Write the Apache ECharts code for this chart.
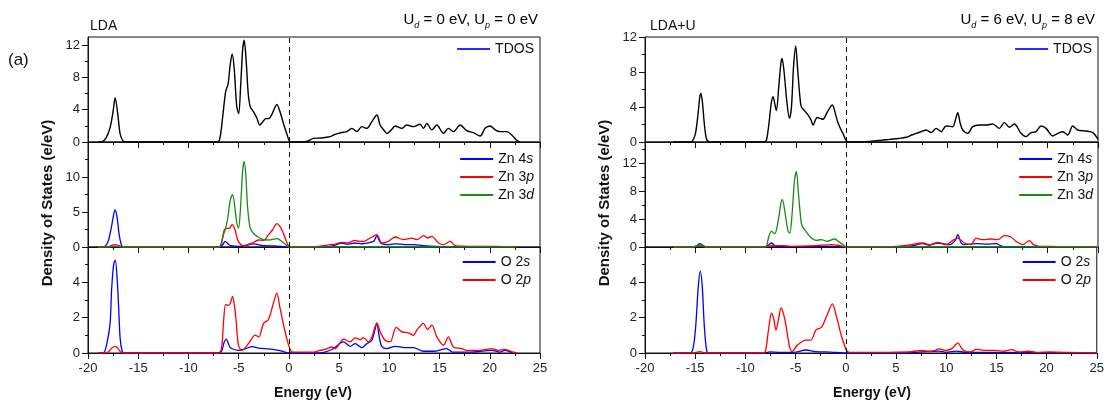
<!DOCTYPE html>
<html><head><meta charset="utf-8">
<script src="https://cdn.jsdelivr.net/npm/echarts@6/dist/echarts.min.js"></script>
<style>html,body{margin:0;padding:0;background:#fff}#c{width:1107px;height:400px}</style>
</head><body><div id="c"></div>
<script>
// ---- data: [energy (eV), DOS (e/eV)] ----
const ldaTdos = [[-19,0],[-18.6,0.05],[-18.2,0.5],[-17.8,1.8],[-17.5,3.8],[-17.3,5.5],[-17.05,3.6],[-16.8,1.0],[-16.5,0.1],[-16.2,0],
 [-7.2,0],[-6.9,0.3],[-6.6,3.0],[-6.3,6.2],[-6.05,7.2],[-5.85,9.5],[-5.65,10.9],[-5.45,9.2],[-5.2,4.5],[-5.0,3.5],[-4.8,7.0],[-4.6,11.5],[-4.45,12.6],[-4.25,10.0],[-4.05,6.0],[-3.85,4.4],[-3.5,3.7],[-3.2,3.0],[-2.9,2.1],[-2.6,2.5],[-2.3,2.9],[-2.0,2.9],[-1.7,3.4],[-1.2,4.65],[-0.9,3.8],[-0.5,2.1],[-0.2,1.0],[0.1,0.05],[0.5,0],
 [1.5,0],[2.0,0.2],[2.45,0.45],[3.2,0.5],[4.1,0.66],[4.5,0.9],[4.94,1.07],[5.4,1.2],[5.77,1.28],[6.27,1.69],[6.77,1.28],[7.26,1.9],[7.76,1.69],[8.26,2.52],[8.76,3.34],[9.08,2.1],[9.5,1.4],[9.75,1.07],[10.2,1.5],[10.58,1.98],[11.24,1.69],[11.74,2.1],[12.4,1.9],[13.06,2.2],[13.4,1.69],[13.73,2.3],[14.23,1.5],[14.73,2.1],[15.39,1.07],[15.88,1.69],[16.38,1.28],[17.05,2.1],[17.71,1.4],[18.37,1.15],[19.04,0.74],[19.53,1.69],[20.03,1.98],[20.53,1.5],[21.02,1.28],[21.69,1.28],[22.35,0.66],[22.7,0.2],[23.0,0]];
const ldaZn4s = [[-19,0],[-18.4,0.05],[-18.0,0.8],[-17.7,2.6],[-17.45,4.6],[-17.3,5.3],[-17.1,4.2],[-16.9,1.8],[-16.65,0.2],[-16.4,0],
 [-7.0,0],[-6.6,0.3],[-6.35,0.8],[-6.0,0.35],[-5.8,0.2],[-5.0,0.1],[-4.5,0.15],[-3.5,0.45],[-3.0,0.3],[-2.5,0.2],[-1.5,0.15],[-0.5,0.05],[0,0],
 [3.5,0],[4.5,0.2],[5.27,0.57],[5.8,0.4],[6.6,0.57],[7.2,0.45],[8.09,0.66],[8.5,0.9],[8.75,1.62],[9.0,0.9],[9.25,0.45],[10.0,0.35],[10.58,0.45],[11.5,0.35],[12.4,0.33],[13.4,0.2],[14.7,0.1],[16,0.05],[18,0.05],[20,0.05],[22.5,0]];
const ldaZn3p = [[-19,0],[-18.3,0],[-17.9,0.1],[-17.5,0.3],[-17.3,0.33],[-17.0,0.25],[-16.7,0.05],[-16.4,0],
 [-7.0,0],[-6.7,0.5],[-6.45,2.4],[-6.2,2.65],[-5.9,2.7],[-5.65,3.2],[-5.4,2.6],[-5.1,1.05],[-4.8,0.35],[-4.5,0.2],[-4.0,0.4],[-3.5,0.68],[-3.0,1.0],[-2.5,0.95],[-2.03,1.76],[-1.6,2.5],[-1.2,3.33],[-0.7,2.47],[-0.3,1.0],[0,0.1],[0.4,0],
 [1.5,0],[3.0,0.1],[4.11,0.33],[4.6,0.4],[5.27,0.66],[5.8,0.57],[6.6,0.95],[7.0,0.8],[7.43,0.8],[8.09,1.28],[8.75,1.76],[9.25,0.57],[9.91,0.8],[10.58,1.43],[11.4,1.05],[12.24,1.28],[12.74,1.05],[13.4,1.62],[13.8,1.28],[14.23,1.52],[14.89,0.57],[15.39,0.33],[16.05,0.8],[16.55,0.2],[17.7,0.1],[19,0.08],[20.5,0.1],[22,0.05],[22.7,0]];
const ldaZn3d = [[-19,0],[-17.8,0],[-17.5,0.1],[-17.3,0.12],[-17.0,0.05],[-16.6,0],
 [-7.0,0],[-6.8,0.3],[-6.55,1.6],[-6.34,2.47],[-6.1,4.0],[-5.85,6.6],[-5.61,7.47],[-5.4,6.0],[-5.2,3.5],[-5.01,2.71],[-4.8,6.0],[-4.6,11.0],[-4.45,12.2],[-4.3,10.5],[-4.1,5.5],[-3.85,2.7],[-3.5,1.9],[-3.18,1.52],[-2.52,1.05],[-2.0,1.0],[-1.6,1.1],[-1.2,1.19],[-0.9,1.0],[-0.54,0.6],[-0.2,0.2],[0,0],[22.5,0]];
const ldaO2s = [[-19,0],[-18.45,0.02],[-18.1,0.6],[-17.8,1.68],[-17.65,3.58],[-17.45,5.0],[-17.28,5.26],[-17.1,4.2],[-16.95,2.6],[-16.8,0.83],[-16.6,0.1],[-16.4,0],
 [-7.0,0],[-6.7,0.1],[-6.45,0.6],[-6.24,0.78],[-6.0,0.5],[-5.84,0.3],[-5.01,0.15],[-4.5,0.2],[-3.68,0.36],[-3.0,0.27],[-2.0,0.23],[-1.0,0.15],[-0.54,0.08],[0,0],
 [3.0,0],[4.28,0.2],[5.43,0.63],[6.1,0.38],[6.6,0.53],[7.26,0.3],[7.76,0.53],[8.26,0.72],[8.76,1.64],[9.0,0.9],[9.25,0.38],[9.75,0.25],[10.58,0.38],[11.5,0.3],[12.4,0.3],[13.4,0.1],[14.5,0.1],[15.7,0.25],[16.3,0.05],[18,0.05],[20.2,0.15],[21,0.05],[21.5,0.15],[22.3,0]];
const ldaO2p = [[-19,0],[-18.3,0],[-17.9,0.1],[-17.6,0.3],[-17.3,0.38],[-17.0,0.25],[-16.7,0.03],[-16.4,0],
 [-7.0,0],[-6.7,0.3],[-6.5,1.8],[-6.3,2.73],[-6.05,2.7],[-5.84,2.8],[-5.61,3.2],[-5.4,2.6],[-5.25,1.8],[-5.01,0.4],[-4.68,0.15],[-4.0,0.55],[-3.35,1.01],[-3.0,0.91],[-2.52,1.68],[-2.03,1.9],[-1.6,2.7],[-1.2,3.39],[-0.9,2.6],[-0.54,1.6],[-0.2,0.8],[0,0.4],[0.2,0.1],[0.46,0.05],
 [2.45,0.05],[3.11,0.15],[3.6,0.2],[4.28,0.34],[4.6,0.25],[5.0,0.5],[5.43,0.78],[6.1,0.63],[6.6,0.86],[7.1,0.76],[7.43,0.87],[7.92,0.63],[8.26,0.91],[8.76,1.71],[9.08,1.2],[9.58,0.72],[10.08,0.63],[10.68,1.45],[11.24,1.2],[11.9,1.14],[12.4,1.0],[12.74,1.3],[13.4,1.68],[13.8,1.33],[14.23,1.58],[14.73,0.91],[15.39,0.44],[15.88,0.91],[16.38,0.34],[17.2,0.25],[17.7,0.15],[19,0.15],[20.2,0.25],[20.8,0.15],[21.5,0.2],[22.35,0.05],[22.7,0]];

const ldauTdos = [[-17.2,0],[-15.6,0],[-15.3,0.1],[-15.0,0.9],[-14.75,3.0],[-14.55,5.2],[-14.45,5.56],[-14.3,4.6],[-14.1,2.0],[-13.9,0.4],[-13.6,0],
 [-8.2,0],[-7.94,0.2],[-7.7,2.0],[-7.45,4.5],[-7.28,5.18],[-7.1,4.3],[-6.95,3.6],[-6.7,6.5],[-6.5,9.0],[-6.39,9.56],[-6.2,8.2],[-5.9,4.5],[-5.65,2.7],[-5.45,4.0],[-5.25,8.5],[-5.03,10.97],[-4.85,8.5],[-4.6,5.0],[-4.47,4.04],[-4.1,3.5],[-3.81,3.1],[-3.5,2.5],[-3.31,1.94],[-2.9,2.8],[-2.6,2.7],[-2.32,2.6],[-1.9,3.4],[-1.39,4.23],[-1.1,3.3],[-0.83,2.2],[-0.33,0.95],[0.17,0],
 [1.5,0],[2.5,0.1],[3.5,0.2],[4.3,0.3],[5.2,0.4],[5.95,0.54],[6.5,0.8],[6.94,0.99],[7.5,1.2],[7.93,1.37],[8.43,1.07],[8.92,1.56],[9.42,1.18],[9.91,1.83],[10.57,1.75],[10.85,2.6],[11.07,3.35],[11.3,2.2],[11.56,1.37],[12.06,0.99],[12.56,1.75],[13.22,1.94],[13.88,1.94],[14.54,2.06],[15.2,1.56],[15.7,2.21],[16.2,1.68],[16.69,2.06],[17.35,0.99],[17.85,0.61],[18.35,1.07],[18.84,1.18],[19.34,1.83],[19.84,1.56],[20.5,0.69],[21.0,0.99],[21.5,1.18],[21.99,0.8],[22.49,1.83],[22.98,1.37],[23.8,1.26],[24.5,1.07],[25,0.3]];
const ldauZn4s = [[-17.2,0],[-15.2,0],[-14.9,0.15],[-14.55,0.47],[-14.2,0.2],[-13.9,0],
 [-8.1,0],[-7.8,0.2],[-7.44,0.57],[-7.1,0.2],[-6.5,0.1],[-5,0.05],[-3,0.08],[-1.5,0.1],[0,0],
 [5,0],[6.5,0.15],[7.6,0.47],[8.2,0.25],[9.09,0.57],[10.24,0.33],[10.8,0.9],[11.07,1.76],[11.4,0.6],[11.73,0.33],[12.89,0.47],[14.0,0.4],[14.87,0.47],[15.5,0.1],[17,0.05],[19,0.05],[21,0.03],[25,0]];
const ldauZn3p = [[-17.2,0],[-15.3,0],[-14.9,0.15],[-14.55,0.3],[-14.2,0.1],[-13.9,0],
 [-8.1,0],[-7.6,0.15],[-7.2,0.2],[-6.4,0.2],[-5.5,0.1],[-4.5,0.12],[-3.0,0.2],[-1.5,0.33],[-0.8,0.25],[0,0],
 [4,0],[5.0,0.1],[6.45,0.33],[7.6,0.57],[8.26,0.33],[9.09,0.66],[9.91,0.33],[10.57,0.95],[11.07,1.28],[11.73,0.57],[12.39,0.33],[12.89,1.28],[13.55,1.05],[14.37,1.14],[15.04,1.05],[15.7,1.62],[16.36,1.43],[16.86,0.8],[17.52,0.33],[18.18,0.9],[18.6,0.33],[19.17,0.1],[20.5,0.08],[22,0.05],[24,0.05],[25,0]];
const ldauZn3d = [[-17.2,0],[-15.2,0],[-14.9,0.15],[-14.5,0.35],[-14.15,0.1],[-13.9,0],
 [-8.2,0],[-7.94,0.1],[-7.7,1.5],[-7.44,2.23],[-7.11,1.9],[-6.8,3.5],[-6.5,6.2],[-6.35,6.76],[-6.1,5.0],[-5.8,2.3],[-5.62,2.0],[-5.4,4.5],[-5.15,9.5],[-4.96,10.8],[-4.75,7.5],[-4.5,3.7],[-4.37,2.95],[-4.0,2.2],[-3.64,1.52],[-2.98,0.95],[-2.48,1.05],[-1.92,0.8],[-1.16,1.14],[-0.7,0.7],[-0.33,0.33],[0,0],[25,0]];
const ldauO2s = [[-17.2,0],[-15.5,0],[-15.2,0.3],[-14.95,1.5],[-14.7,3.7],[-14.5,4.63],[-14.3,3.8],[-14.1,1.6],[-13.85,0.1],[-13.6,0],
 [-8.0,0],[-7.6,0.06],[-6.5,0.03],[-5,0.05],[-4.0,0.17],[-3.0,0.08],[-1.5,0.05],[0,0],
 [6,0],[7.5,0.06],[9.25,0.11],[10.0,0.05],[11.0,0.11],[12,0.03],[15,0.03],[25,0]];
const ldauO2p = [[-17.2,0],[-15.2,0],[-14.8,0.05],[-14.5,0.08],[-14.2,0.03],[-13.9,0],
 [-8.3,0],[-8.0,0.1],[-7.75,1.1],[-7.61,1.68],[-7.4,2.25],[-7.2,2.0],[-6.95,1.3],[-6.7,1.9],[-6.45,2.57],[-6.2,2.2],[-5.96,1.58],[-5.62,0.4],[-5.36,0.08],[-4.8,0.46],[-3.97,0.73],[-3.48,0.73],[-2.98,1.3],[-2.42,1.45],[-1.9,2.1],[-1.33,2.78],[-0.9,2.0],[-0.5,1.1],[0.07,0.15],[0.4,0.03],
 [3,0.03],[5,0.05],[6.5,0.08],[7.6,0.15],[8.3,0.1],[8.92,0.15],[9.25,0.23],[9.91,0.15],[10.57,0.25],[10.9,0.45],[11.17,0.57],[11.45,0.35],[11.73,0.15],[12.39,0.06],[13.05,0.21],[13.88,0.15],[14.87,0.15],[15.8,0.1],[16.53,0.19],[17.2,0.06],[18.18,0.1],[19,0.04],[20.3,0.06],[22,0.03],[25,0]];

// ---- axes: ranges and tick values ----
const xTicks = [-20,-15,-10,-5,0,5,10,15,20,25];
const yMaxLda = [13, 15, 6];
const yMaxLdaU = [12, 15, 6];
const yMajorLda = [[0,4,8,12],[0,5,10],[0,2,4]];
const yMinorLda = [[2,6,10],[2.5,7.5,12.5],[1,3,5]];
const yMajorLdaU = [[0,4,8,12],[0,4,8,12],[0,2,4]];
const yMinorLdaU = [[2,6,10],[2,6,10,14],[1,3,5]];
const legendNames = [['TDOS'],['Zn 4s','Zn 3p','Zn 3d'],['O 2s','O 2p']];

const FONT = 'Liberation Sans, Arial, Helvetica, sans-serif';
const BLUE = '#0000ff', RED = '#ff0000', GREEN = '#1a8a1a', BLACK = '#000000';

const panels = [
  {left: 88, width: 452, maxes: yMaxLda, major: yMajorLda, minor: yMinorLda,
   series: [[['TDOS', ldaTdos, BLACK]], [['Zn 4s', ldaZn4s, BLUE], ['Zn 3p', ldaZn3p, RED], ['Zn 3d', ldaZn3d, GREEN]], [['O 2s', ldaO2s, BLUE], ['O 2p', ldaO2p, RED]]],
   legendRight: [573, 573, 576]},
  {left: 645, width: 453, maxes: yMaxLdaU, major: yMajorLdaU, minor: yMinorLdaU,
   series: [[['TDOS', ldauTdos, BLACK]], [['Zn 4s', ldauZn4s, BLUE], ['Zn 3p', ldauZn3p, RED], ['Zn 3d', ldauZn3d, GREEN]], [['O 2s', ldauO2s, BLUE], ['O 2p', ldauO2p, RED]]],
   legendRight: [15, 14, 16]}
];
const rowTop = [37, 142, 247], rowH = [105, 105, 106];
const legendTop = [41, 151, 254];

const grid = [], xAxis = [], yAxis = [], series = [], legend = [];
panels.forEach((p, pi) => {
  for (let r = 0; r < 3; r++) {
    const gi = grid.length;
    grid.push({left: p.left, width: p.width, top: rowTop[r], height: rowH[r], show: true, borderColor: '#111', borderWidth: 1, backgroundColor: 'transparent', containLabel: false});
    xAxis.push({type: 'value', gridIndex: gi, min: -20, max: 25, interval: 5,
      axisLine: {show: true, onZero: false, lineStyle: {color: '#111', width: 1}},
      axisTick: {show: true, length: 6, lineStyle: {color: '#111'}},
      minorTick: {show: true, splitNumber: 2, length: 3, lineStyle: {color: '#111'}},
      axisLabel: {show: r === 2, color: '#222', fontSize: 13, fontFamily: FONT, margin: 9},
      splitLine: {show: false}});
    const yi = yAxis.length;
    yAxis.push({type: 'value', gridIndex: gi, position: 'left', min: 0, max: p.maxes[r],
      axisLine: {show: true, onZero: false, lineStyle: {color: '#111', width: 1}},
      axisTick: {show: true, length: 6, customValues: p.major[r], lineStyle: {color: '#111'}},
      axisLabel: {show: true, customValues: p.major[r], color: '#222', fontSize: 13, fontFamily: FONT, margin: 8},
      splitLine: {show: false}});
    yAxis.push({type: 'value', gridIndex: gi, position: 'left', offset: 0, min: 0, max: p.maxes[r],
      axisLine: {show: false, onZero: false},
      axisTick: {show: true, length: 3, customValues: p.minor[r], lineStyle: {color: '#111'}},
      axisLabel: {show: false},
      splitLine: {show: false}});
    p.series[r].forEach((s, si) => {
      const o = {type: 'line', name: s[0], data: s[1], xAxisIndex: gi, yAxisIndex: yi,
        symbol: 'none', smooth: 0.3, animation: false, clip: true,
        lineStyle: {color: s[2], width: s[2] === BLACK ? 1.4 : 1.3}, itemStyle: {color: s[2]}, z: 2 + si};
      if (si === 0) {
        o.markLine = {silent: true, symbol: ['none', 'none'], label: {show: false}, animation: false,
          lineStyle: {color: '#000', type: [5, 4], width: 1}, data: [{xAxis: 0}]};
      }
      series.push(o);
    });
    legend.push({orient: 'vertical', right: p.legendRight[r], top: legendTop[r], padding: 0,
      icon: 'rect', itemWidth: 33, itemHeight: 2, itemGap: 2, selectedMode: false,
      data: legendNames[r].map(n => {
        const c = n === 'TDOS' ? '#2a2aff' : (p.series[r].find(s => s[0] === n)[2]);
        return {name: n, itemStyle: {color: c}};
      }),
      formatter: n => n.replace(/(\d)([spd])$/, '$1{i|$2}'),
      textStyle: {fontSize: 14, lineHeight: 16, color: '#111', fontFamily: FONT, rich: {i: {fontSize: 14, lineHeight: 16, fontStyle: 'italic', fontFamily: FONT, color: '#111'}}}});
  }
});

const subRich = {n: {fontSize: 15, fontFamily: FONT, color: '#111', lineHeight: 20}, s: {fontSize: 9, fontStyle: 'italic', fontFamily: FONT, color: '#111', verticalAlign: 'bottom'}};
const titleStyle = {fontSize: 15, fontWeight: 'bold', fontFamily: FONT, fill: '#111', align: 'center', verticalAlign: 'middle'};
const graphic = [
  {type: 'text', left: 8, top: 52, style: {text: '(a)', fontSize: 17, fontFamily: FONT, fill: '#111'}},
  {type: 'text', left: 90, top: 19, style: {text: 'LDA', fontSize: 14, fontFamily: FONT, fill: '#111'}},
  {type: 'text', right: 1107 - 538, top: 12, style: {text: '{n|U}{s|d}{n| = 0 eV, U}{s|p}{n| = 0 eV}', rich: subRich}},
  {type: 'text', left: 650, top: 19, style: {text: 'LDA+U', fontSize: 14, fontFamily: FONT, fill: '#111'}},
  {type: 'text', right: 1107 - 1095, top: 12, style: {text: '{n|U}{s|d}{n| = 6 eV, U}{s|p}{n| = 8 eV}', rich: subRich}},
  {type: 'text', x: 48, y: 203, rotation: Math.PI / 2, style: Object.assign({text: 'Density of States (e/eV)'}, titleStyle)},
  {type: 'text', x: 605, y: 203, rotation: Math.PI / 2, style: Object.assign({text: 'Density of States (e/eV)'}, titleStyle)},
  {type: 'text', x: 313, y: 393, style: Object.assign({text: 'Energy (eV)'}, titleStyle, {fontSize: 14})},
  {type: 'text', x: 872, y: 393, style: Object.assign({text: 'Energy (eV)'}, titleStyle, {fontSize: 14})}
];

const chart = echarts.init(document.getElementById('c'), null, {renderer: 'canvas'});
chart.setOption({animation: false, backgroundColor: '#fff', textStyle: {fontFamily: FONT}, grid, xAxis, yAxis, series, legend, graphic});
</script>
</body></html>
